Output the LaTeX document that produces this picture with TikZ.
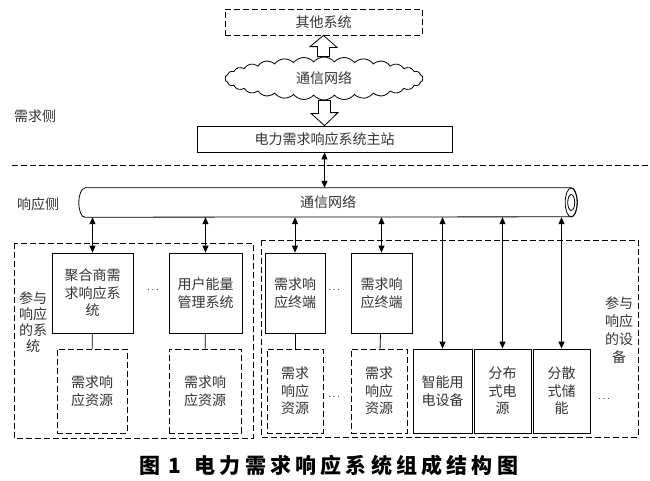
\documentclass[tikz,border=0pt]{standalone}
\usepackage{fontspec}
\setmainfont{Noto Sans CJK SC}
\newfontfamily\capfont[LetterSpace=20]{Noto Sans CJK SC}
\usetikzlibrary{arrows.meta,shapes.symbols}
\tikzset{>={Triangle[length=7pt,width=6pt]}}
\tikzset{
  box/.style={draw, line width=0.8pt, inner sep=0pt, align=center, text=black!80,
    font=\fontsize{14}{17.5}\selectfont},
  dbox/.style={box, dash pattern=on 6pt off 3pt},
  frame/.style={line width=0.8pt, dash pattern=on 6pt off 3pt},
  lbl/.style={align=center, text=black!80, font=\fontsize{14}{17}\selectfont},
  link/.style={line width=0.8pt}
}

\begin{document}
\begin{tikzpicture}[x=1pt,y=-1pt]
    \useasboundingbox (0,0) rectangle (650,480);
    % demand side
    \node[dbox, minimum width=197pt, minimum height=26pt] (other) at (323.5,22) {其他系统};
    \node[cloud, draw, line width=0.8pt, cloud puffs=30, cloud puff arc=100, aspect=4.6,
      minimum width=198pt, minimum height=43pt, inner sep=0pt, text=black!80,
      font=\fontsize{14}{17}\selectfont] (net) at (324,78.5) {通信网络};
    \node[box, minimum width=255pt, minimum height=26pt] (master) at (324.5,139) {电力需求响应系统主站};
    \node[lbl] (demand) at (35,116) {需求侧};
    % hollow arrows
    \draw[link] (other.south) -- ++(13.5,12) -- ++(-7.5,0) -- ([xshift=6pt]other.south |- net.north)
      -- ([xshift=-6pt]other.south |- net.north) -- ++(0,-10) -- ++(-7.5,0) -- cycle;
    \draw[link] (master.north) -- ++(13.5,-13) -- ++(-7.5,0) -- ([xshift=6pt]master.north |- net.south)
      -- ([xshift=-6pt]master.north |- net.south) -- ++(0,13) -- ++(-7.5,0) -- cycle;
    \draw[frame] (12,165) -- (650,165);
    % response side: the pipe
    \node[lbl, minimum width=498pt, minimum height=29pt, inner sep=0pt] (pipe) at (328,202.5) {通信网络};
    \draw[link] ([xshift=6pt]pipe.north west) -- ([xshift=-6pt]pipe.north east)
      arc[start angle=90, end angle=-90, x radius=6pt, y radius=14.5pt]
      -- ([xshift=6pt]pipe.south west)
      arc[start angle=270, end angle=90, x radius=6pt, y radius=14.5pt];
    \draw[link] ([xshift=-6pt]pipe.east) ellipse [x radius=6pt, y radius=14.5pt];
    \draw[link] ([xshift=-6pt]pipe.east) ellipse [x radius=3.5pt, y radius=8pt];
    \node[lbl] (response) at (38,204) {响应侧};
    \draw[link,<->] (master.south) -- (master.south |- pipe.north);
    % groups
    \draw[frame] (14,243) rectangle (253,438);
    \draw[frame] (261,240) rectangle (638,437);
    \node[lbl, font=\fontsize{14}{16}\selectfont] (sysgrp) at (33,322) {参与\\响应\\的系\\统};
    \node[lbl, font=\fontsize{14}{18}\selectfont] (devgrp) at (619,330) {参与\\响应\\的设\\备};
    % systems and terminals
    \node[box, minimum width=81pt, minimum height=80pt] (agg) at (92.5,293) {聚合商需\\求响应系\\统};
    \node[box, minimum width=73pt, minimum height=80pt] (uems) at (205.5,293) {用户能量\\管理系统};
    \node[box, minimum width=60pt, minimum height=80pt] (term1) at (295,293) {需求响\\应终端};
    \node[box, minimum width=61pt, minimum height=80pt] (term2) at (381.5,293) {需求响\\应终端};
    \node[dbox, minimum width=70pt, minimum height=84pt] (res1) at (92,391) {需求响\\应资源};
    \node[dbox, minimum width=72pt, minimum height=84pt] (res2) at (205,391) {需求响\\应资源};
    \node[dbox, minimum width=56pt, minimum height=84pt] (res3) at (295,391) {需求\\响应\\资源};
    \node[dbox, minimum width=56pt, minimum height=84pt] (res4) at (379,391) {需求\\响应\\资源};
    % devices
    \node[box, minimum width=59pt, minimum height=84pt] (smart) at (442.5,391) {智能用\\电设备};
    \node[box, minimum width=57pt, minimum height=84pt] (dg) at (502.5,391) {分布\\式电\\源};
    \node[box, minimum width=57pt, minimum height=84pt] (es) at (561.5,391) {分散\\式储\\能};
    \node (dotsa) at (153,290) {$\cdots$};
    \node (dotsb) at (334,290) {$\cdots$};
    \node (dotsc) at (334,397) {$\cdots$};
    \node (dotsd) at (604,399) {$\cdots$};
    % links to the pipe
    \foreach \n in {agg,uems,term1,term2,smart,dg,es}
      \draw[link,<->] (\n.north |- pipe.south) -- (\n.north);
    \draw[link] (agg) -- (res1);
    \draw[link] (uems) -- (res2);
    \draw[link] (term1) -- (res3);
    \draw[link] (term2) -- (res4);
    % caption
    \node[font=\capfont\bfseries\fontsize{21}{24}\selectfont] (caption) at (329,465)
      {图\hspace{8pt}1\hspace{13pt}电力需求响应系统组成结构图};
\end{tikzpicture}
\end{document}
